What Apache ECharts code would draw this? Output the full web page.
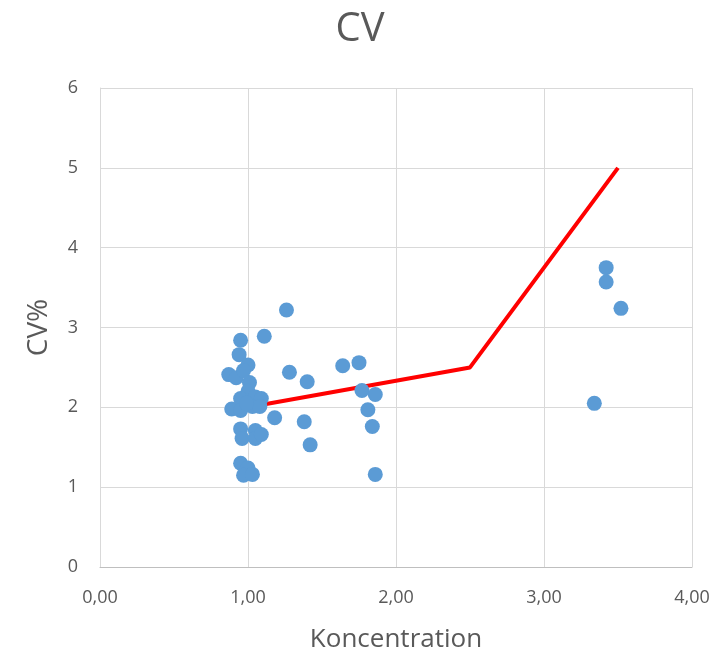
<!DOCTYPE html>
<html>
<head>
<meta charset="utf-8">
<script src="https://cdn.jsdelivr.net/npm/echarts@6/dist/echarts.min.js"></script>
<style>
  html, body { margin: 0; padding: 0; background: #fff; }
  #chart { width: 720px; height: 658px; }
</style>
</head>
<body>
<div id="chart"></div>
<script>
// Measured concentrations and their CV%
const concentration = [
  0.95, 0.94, 1.00, 0.87, 0.92, 0.97, 1.01, 1.00, 0.95, 1.05,
  1.09, 0.89, 0.95, 1.03, 1.08, 0.99, 0.95, 1.05, 0.96, 1.05,
  1.09, 0.95, 1.00, 0.97, 1.03, 1.11, 1.26, 1.28, 1.40, 1.64,
  1.75, 1.77, 1.86, 1.81, 1.84, 1.86, 1.38, 1.42, 1.18, 3.42,
  3.42, 3.52, 3.34
];
const cvPercent = [
  2.84, 2.66, 2.53, 2.41, 2.37, 2.46, 2.31, 2.20, 2.11, 2.13,
  2.11, 1.98, 1.96, 2.01, 2.01, 2.05, 1.73, 1.71, 1.61, 1.61,
  1.66, 1.30, 1.24, 1.15, 1.16, 2.89, 3.22, 2.44, 2.32, 2.52,
  2.56, 2.21, 2.16, 1.97, 1.76, 1.16, 1.82, 1.53, 1.87, 3.75,
  3.57, 3.24, 2.05
];

// Acceptance limit for CV% (piecewise)
const limitX = [1.0, 2.5, 3.5];
const limitY = [2.0, 2.5, 5.0];

const xTicks = { min: 0, max: 4, interval: 1 };
const yTicks = { min: 0, max: 6, interval: 1 };

const textColor = '#595959';
const fontFamily = '"Open Sans", "Noto Sans", sans-serif';

const chart = echarts.init(document.getElementById('chart'), null, { renderer: 'canvas' });

chart.setOption({
  animation: false,
  backgroundColor: '#ffffff',
  title: {
    text: 'CV',
    left: 'center',
    top: 5,
    textStyle: { color: textColor, fontSize: 40, fontWeight: 'normal', fontFamily }
  },
  grid: { left: 100, right: 28, top: 88, bottom: 89 },
  xAxis: {
    type: 'value',
    min: xTicks.min, max: xTicks.max, interval: xTicks.interval,
    name: 'Koncentration',
    nameLocation: 'middle',
    nameGap: 60,
    nameTextStyle: { color: textColor, fontSize: 26, fontFamily },
    axisLine: { show: true, lineStyle: { color: '#bfbfbf', width: 1 } },
    axisTick: { show: false },
    axisLabel: {
      color: textColor, fontSize: 18, fontFamily, margin: 22,
      formatter: v => v.toFixed(2).replace('.', ',')
    },
    splitLine: { show: true, lineStyle: { color: '#d9d9d9', width: 1 } }
  },
  yAxis: {
    type: 'value',
    min: yTicks.min, max: yTicks.max, interval: yTicks.interval,
    name: 'CV%',
    nameLocation: 'middle',
    nameGap: 47,
    nameRotate: 90,
    nameTextStyle: { color: textColor, fontSize: 28, fontFamily },
    axisLine: { show: true, lineStyle: { color: '#d9d9d9', width: 1 } },
    axisTick: { show: false },
    axisLabel: { color: textColor, fontSize: 18, fontFamily, margin: 22 },
    splitLine: { show: true, lineStyle: { color: '#d9d9d9', width: 1 } }
  },
  series: [
    {
      type: 'line',
      data: limitX.map((x, i) => [x, limitY[i]]),
      symbol: 'none',
      lineStyle: { color: '#ff0000', width: 4 },
      z: 1
    },
    {
      type: 'scatter',
      data: concentration.map((x, i) => [x, cvPercent[i]]),
      symbol: 'circle',
      symbolSize: 15,
      itemStyle: { color: '#5b9bd5', opacity: 1 },
      z: 2
    }
  ]
});
</script>
</body>
</html>
